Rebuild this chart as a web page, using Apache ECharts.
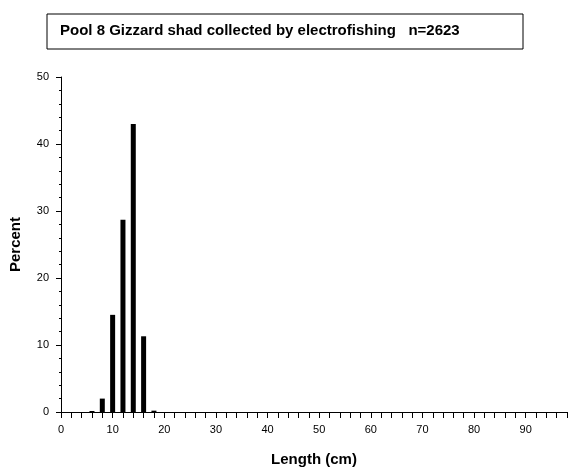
<!DOCTYPE html>
<html><head><meta charset="utf-8">
<script src="https://cdn.jsdelivr.net/npm/echarts@6/dist/echarts.min.js"></script>
<style>html,body{margin:0;background:#fff}#c{width:570px;height:475px}</style>
</head><body><div id="c"></div>
<script>
// length class midpoints (cm) and percent of catch
const lengths = [6, 8, 10, 12, 14, 16, 18];
const percents = [0.15, 2.0, 14.5, 28.7, 43.0, 11.3, 0.2];
const titleText = "Pool 8 Gizzard shad collected by electrofishing   n=2623";

let myChart = echarts.init(document.getElementById("c"));
let option = {
  animation: false,
  textStyle: { fontFamily: "Liberation Sans" },
  graphic: [
    { type: "rect", shape: { x: 47, y: 14, width: 476, height: 35 },
      style: { fill: "#fff", stroke: "#000", lineWidth: 1 } },
    { type: "text", x: 60, y: 31,
      style: { text: titleText, font: "bold 15px Liberation Sans", fill: "#000",
               align: "left", verticalAlign: "middle" } }
  ],
  grid: { left: 59, right: 3, top: 77, bottom: 63 },
  xAxis: {
    type: "value", min: 0, max: 98, interval: 2,
    name: "Length (cm)", nameLocation: "middle", nameGap: 40,
    nameTextStyle: { fontSize: 15, fontWeight: "bold", color: "#000" },
    axisLine: { lineStyle: { color: "#000" } },
    axisTick: { length: 6, lineStyle: { color: "#000" } },
    axisLabel: { color: "#000", fontSize: 11, margin: 12,
      formatter: v => (v % 10 === 0 && v < 98 ? v : "") },
    splitLine: { show: false }
  },
  yAxis: {
    type: "value", min: 0, max: 50, interval: 10, offset: 4,
    name: "Percent", nameLocation: "middle", nameGap: 34,
    nameTextStyle: { fontSize: 15, fontWeight: "bold", color: "#000" },
    axisLine: { show: true, lineStyle: { color: "#000" } },
    axisTick: { show: true, length: 5, lineStyle: { color: "#000" } },
    minorTick: { show: true, splitNumber: 5, length: 2, lineStyle: { color: "#000" } },
    axisLabel: { color: "#000", fontSize: 11 },
    splitLine: { show: false }
  },
  series: [{
    type: "bar", barWidth: 5, itemStyle: { color: "#000" },
    data: lengths.map((l, i) => [l, percents[i]])
  }]
};
myChart.setOption(option);
</script></body></html>
